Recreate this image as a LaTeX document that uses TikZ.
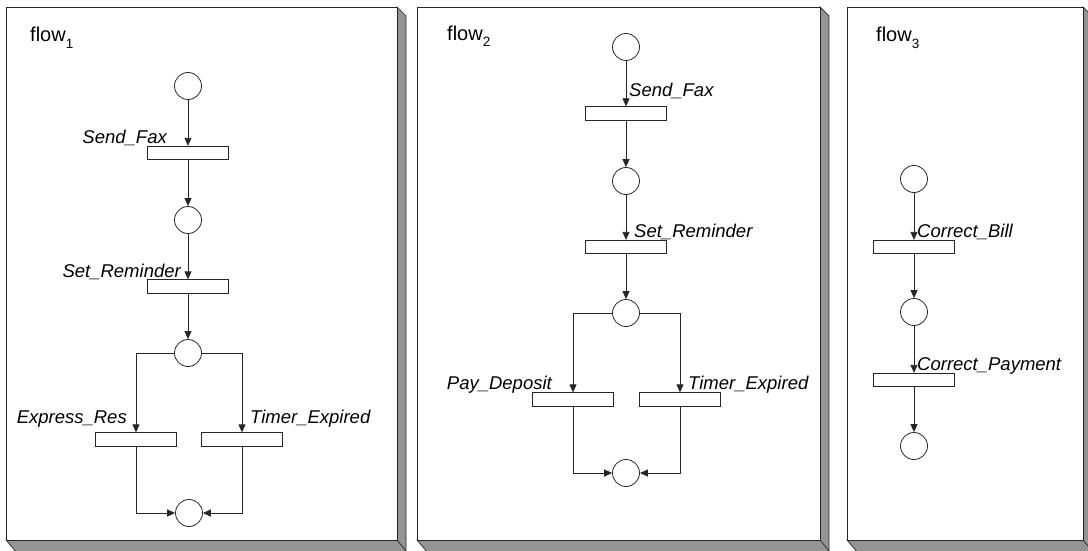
\documentclass[tikz,border=0pt]{standalone}
\usepackage{fontspec}
\setmainfont{Liberation Sans}
\usetikzlibrary{arrows.meta}
\begin{document}
\begin{tikzpicture}[x=1pt,y=-1pt,
  place/.style={circle,draw=black!85,line width=0.8pt,minimum size=27pt,inner sep=0pt},
  trans/.style={rectangle,draw=black!85,line width=0.8pt,minimum width=81pt,minimum height=13.5pt,inner sep=0pt},
  lab/.style={font=\fontsize{18.5}{20}\selectfont\itshape,inner sep=0pt},
  arc/.style={line width=0.8pt,draw=black!85,-{Triangle[width=7pt,length=8pt]}},
  ttl/.style={font=\fontsize{20}{22}\selectfont,inner sep=0pt,anchor=base west},
  face/.style={fill=white,draw=black!85,line width=0.9pt},
  side/.style={fill=black!42,draw=black!85,line width=0.7pt}]

\useasboundingbox (0,0) rectangle (1088,551);
\clip (0,0) rectangle (1088,551);

% three raised panels: shaded side and bottom, white front face
\foreach \xa/\xb in {6/397, 417/820, 847/1083}{
  \filldraw[side] (\xb,7) -- (\xb+9,16) -- (\xb+9,553) -- (\xa+11,553)
                  -- (\xa,540) -- (\xb,540) -- cycle;
  \draw[black!85,line width=0.7pt] (\xb,540) -- (\xb+9,551);
  \filldraw[face] (\xa,7) rectangle (\xb,540);
}

% titles
\node[ttl] (f1) at (30,42) {flow\raisebox{-6pt}{\fontsize{13.5}{14}\selectfont 1}};
\node[ttl] (f2) at (447,41) {flow\raisebox{-6pt}{\fontsize{13.5}{14}\selectfont 2}};
\node[ttl] (f3) at (876,42) {flow\raisebox{-6pt}{\fontsize{13.5}{14}\selectfont 3}};

% flow 1
\node[place] (a1) at (188,86) {};
\node[trans] (a2) at (188,153) {};
\node[place] (a3) at (188,220) {};
\node[trans] (a4) at (188,286.5) {};
\node[place] (a5) at (188,353) {};
\node[trans] (a6) at (136,439.5) {};
\node[trans] (a7) at (242,439.5) {};
\node[place] (a8) at (189,513) {};
\node[lab,anchor=base east] (la2) at (167,143) {Send\_Fax};
\node[lab,anchor=base east] (la4) at (181,277) {Set\_Reminder};
\node[lab,anchor=base east] (la6) at (127,423) {Express\_Res};
\node[lab,anchor=base west] (la7) at (250,423) {Timer\_Expired};
\draw[arc] (a1) -- (a2);
\draw[arc] (a2) -- (a3);
\draw[arc] (a3) -- (a4);
\draw[arc] (a4) -- (a5);
\draw[arc] (a5.west) -| (a6.north);
\draw[arc] (a5.east) -| (a7.north);
\draw[arc] (a6.south) |- (a8.west);
\draw[arc] (a7.south) |- (a8.east);

% flow 2
\node[place] (b1) at (626,47) {};
\node[trans] (b2) at (626,113.5) {};
\node[place] (b3) at (626,181) {};
\node[trans] (b4) at (626,247) {};
\node[place] (b5) at (626,313) {};
\node[trans] (b6) at (573,399.5) {};
\node[trans] (b7) at (680,399.5) {};
\node[place] (b8) at (626,473) {};
\node[lab,anchor=base west] (lb2) at (629,97) {Send\_Fax};
\node[lab,anchor=base west] (lb4) at (634,237) {Set\_Reminder};
\node[lab,anchor=base east] (lb6) at (552,389) {Pay\_Deposit};
\node[lab,anchor=base west] (lb7) at (688,389) {Timer\_Expired};
\draw[arc] (b1) -- (b2);
\draw[arc] (b2) -- (b3);
\draw[arc] (b3) -- (b4);
\draw[arc] (b4) -- (b5);
\draw[arc] (b5.west) -| (b6.north);
\draw[arc] (b5.east) -| (b7.north);
\draw[arc] (b6.south) |- (b8.west);
\draw[arc] (b7.south) |- (b8.east);

% flow 3
\node[place] (c1) at (914,179) {};
\node[trans] (c2) at (914,247) {};
\node[place] (c3) at (914,312) {};
\node[trans] (c4) at (914,380) {};
\node[place] (c5) at (914,446) {};
\node[lab,anchor=base west] (lc2) at (917,237) {Correct\_Bill};
\node[lab,anchor=base west] (lc4) at (917,370) {Correct\_Payment};
\draw[arc] (c1) -- (c2);
\draw[arc] (c2) -- (c3);
\draw[arc] (c3) -- (c4);
\draw[arc] (c4) -- (c5);
\end{tikzpicture}
\end{document}
